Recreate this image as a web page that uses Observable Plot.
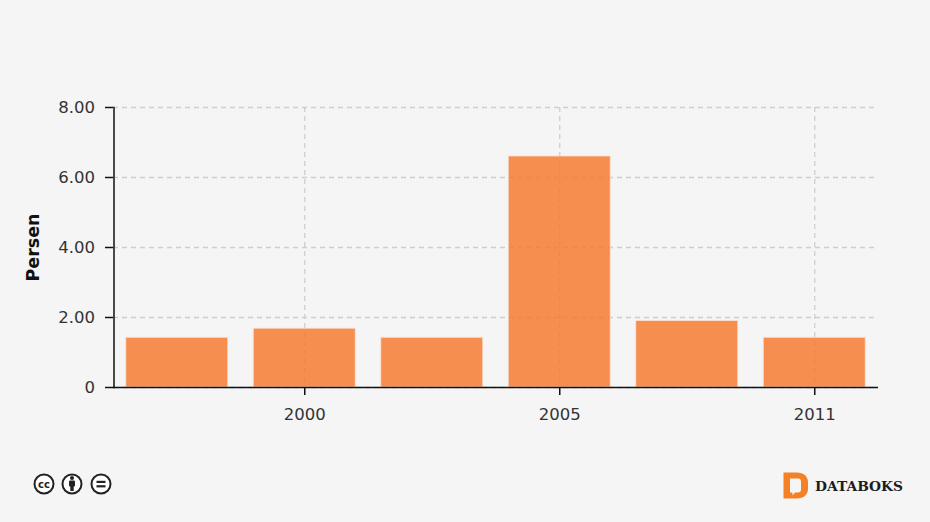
<!DOCTYPE html>
<html>
<head>
<meta charset="utf-8">
<script src="https://cdn.jsdelivr.net/npm/d3@7"></script>
<script src="https://cdn.jsdelivr.net/npm/@observablehq/plot@0.6"></script>
<style>
html,body{margin:0;padding:0;background:#f5f5f5;width:930px;height:522px;overflow:hidden}
#chart{position:absolute;left:0;top:0}
#chart svg{display:block;background:transparent}
#footer{position:absolute;left:0;top:460px}
</style>
</head>
<body>
<div id="chart"></div>
<svg id="footer" width="930" height="50" viewBox="0 0 930 50">
  <g fill="none" stroke="#222" stroke-width="2">
    <circle cx="44" cy="24" r="9.5" fill="#fff"/>
    <circle cx="72" cy="24" r="9.5" fill="#fff"/>
    <circle cx="101" cy="24" r="9.5" fill="#fff"/>
  </g>
  <text x="44" y="27.5" text-anchor="middle" font-family="DejaVu Sans" font-weight="bold" font-size="10" fill="#222">cc</text>
  <g fill="#222">
    <circle cx="72" cy="18" r="2"/>
    <rect x="69" y="20.5" width="6" height="6" rx="1"/>
    <rect x="70.3" y="25" width="3.4" height="6"/>
    <rect x="96.500" y="20.800" width="9" height="2.200"/>
    <rect x="96.500" y="25.200" width="9" height="2.200"/>
  </g>
  <path d="M783.500 12.500h13c7.500 0 11.500 4 11.500 10v6c0 6-4 10-11.500 10h-13z" fill="#f58025"/>
  <path d="M790 18.500h8c2 0 3 1 3 3v8c0 2-1 3-3 3h-3l-2.500 3v-3h-2.500z" fill="#f5f5f5"/>
  <text x="815" y="31" font-family="DejaVu Serif" font-weight="bold" font-size="13.800" fill="#1c1c1c">DATABOKS</text>
</svg>
<script>
const years = ["1998", "2000", "2003", "2005", "2008", "2011"];
const persen = [1.42, 1.68, 1.42, 6.6, 1.9, 1.42];
const labelledYears = ["2000", "2005", "2011"];
const yTicks = [0, 2, 4, 6, 8];
const rows = years.map((year, i) => ({year, value: persen[i]}));

const chart = Plot.plot({
  width: 930,
  height: 440,
  marginLeft: 113,
  marginRight: 52,
  marginTop: 107,
  marginBottom: 53,
  style: {background: "transparent", fontFamily: "DejaVu Sans", fontSize: "16px", color: "#333"},
  x: {domain: years, round: false, paddingInner: 0.2, paddingOuter: 0.1, label: null},
  y: {domain: [0, 8], label: null},
  marks: [
    Plot.gridY(yTicks, {stroke: "#cfcfcf", strokeWidth: 1.3, strokeOpacity: 1, strokeDasharray: "5,4"}),
    Plot.gridX(labelledYears, {stroke: "#cfcfcf", strokeWidth: 1.3, strokeOpacity: 1, strokeDasharray: "5,4"}),
    Plot.barY(rows, {x: "year", y: "value", fill: "#f47b30", fillOpacity: 0.85, stroke: "#fbe3d4", strokeWidth: 1, strokeOpacity: 0.8}),
    Plot.frame({anchor: "left", stroke: "#111", strokeWidth: 1.5, dx: 0.5}),
    Plot.ruleY([0], {stroke: "#111", strokeWidth: 1.5}),
    Plot.axisY(yTicks, {
      tickSize: 8, tickPadding: 10.5, stroke: "#111", strokeWidth: 1.5, fontSize: 16.5, fill: "#333",
      tickFormat: d => d === 0 ? "0" : d.toFixed(2), label: null
    }),
    Plot.axisX(labelledYears, {
      tickSize: 8, tickPadding: 13, stroke: "#111", strokeWidth: 1.5, fontSize: 16.5, fill: "#333", label: null
    }),
    Plot.text(["Persen"], {
      frameAnchor: "left", dx: -80, text: d => d, rotate: -90, textAnchor: "middle",
      fontWeight: "bold", fontSize: 17.5, fill: "#111", fontFamily: "DejaVu Sans"
    })
  ]
});
document.getElementById("chart").appendChild(chart);
</script>
</body>
</html>
